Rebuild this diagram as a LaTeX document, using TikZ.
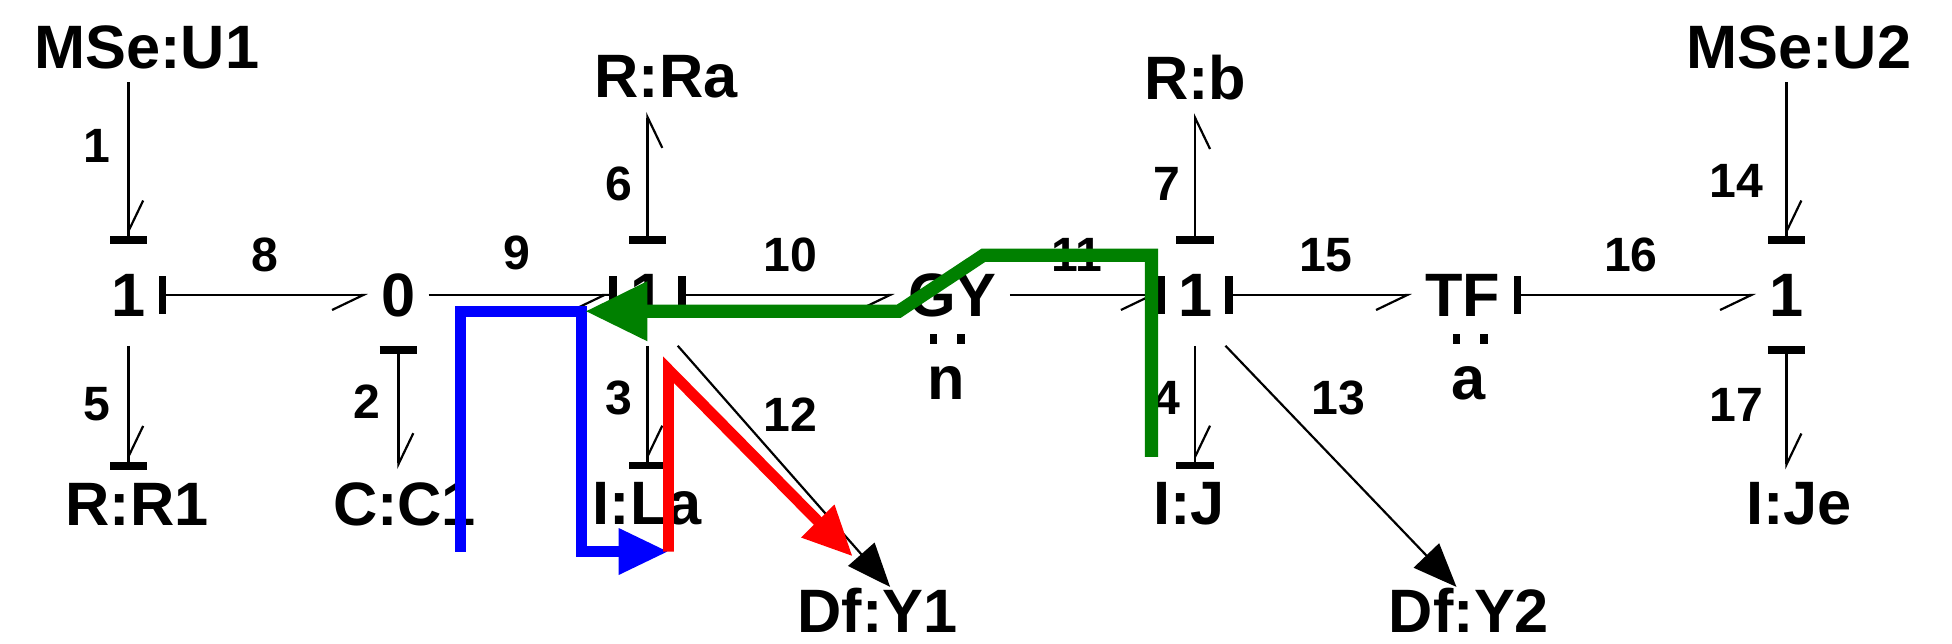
\documentclass[tikz,border=0pt]{standalone}
\usepackage{fontspec}
\setmainfont{Liberation Sans}
\usetikzlibrary{arrows.meta,calc}
\tikzset{
  HB/.tip={Straight Barb[harpoon,length=0.25cm,width=0.24cm,line width=0.5pt]},
  HBS/.tip={Straight Barb[harpoon,swap,length=0.25cm,width=0.24cm,line width=0.5pt]},
  BR/.tip={Bar[width=0.3cm,line width=1.8pt]}}
\begin{document}
\begin{tikzpicture}[x=0.01cm,y=-0.01cm,
  el/.style={font=\fontsize{14}{16}\bfseries\selectfont, inner sep=0.1cm},
  jn/.style={font=\fontsize{14}{16}\bfseries\selectfont, inner xsep=0.1cm, inner ysep=0, minimum height=0.8cm},
  num/.style={font=\fontsize{11}{13}\bfseries\selectfont, inner sep=0},
  bond/.style={line width=0.6pt},
  sig/.style={-{Triangle[length=0.35cm,width=0.28cm]}, line width=0.5pt},
  hl/.style={line width=2.5pt, -{Triangle[length=0.4cm,width=0.35cm]}}]
\useasboundingbox (0,0) rectangle (1568,517);
% junctions
\node[jn] (j1L) at (103,237) {1};
\node[jn] (z0) at (320,237) {0};
\node[jn] (j1M) at (520,237) {1};
\node[jn] (gy) at (765,237) {GY};
\node[jn] (j1R) at (960,237) {1};
\node[jn] (tf) at (1175,237) {TF};
\node[jn] (j1F) at (1435,237) {1};
% elements
\node[el] (U1) at (118,38) {MSe:U1};
\node[el] (U2) at (1445,38) {MSe:U2};
\node[el] (Ra) at (535,62) {R:Ra};
\node[el] (b) at (960,62) {R:b};
\node[el] (R1) at (110,405) {R:R1};
\node[el] (C1) at (325,405) {C:C1};
\node[el] (La) at (520,405) {I:La};
\node[el] (J) at (955,405) {I:J};
\node[el] (Je) at (1445,405) {I:Je};
\node[el] (Y1) at (705,490) {Df:Y1};
\node[el] (Y2) at (1180,490) {Df:Y2};
% modulus labels
\node[el,inner sep=0] (n) at (760,308) {n};
\node[el,inner sep=0] (a) at (1180,308) {a};
\foreach \x in {750,772,1170,1192} \fill (\x-3,268) rectangle (\x+3,276);
% bonds
\draw[bond,-{HB[] BR[]}] (j1L |- U1.south) -- (j1L.north);
\draw[bond,{BR[]}-{HBS[]}] (j1L.east) -- (z0.west);
\draw[bond,-{HBS[] BR[]}] (z0.east) -- (j1M.west);
\draw[bond,{BR[]}-{HBS[]}] (j1M.east) -- (gy.west);
\draw[bond,-{HBS[] BR[]}] (gy.east) -- (j1R.west);
\draw[bond,{BR[]}-{HBS[]}] (j1R.east) -- (tf.west);
\draw[bond,{BR[]}-{HBS[]}] (tf.east) -- (j1F.west);
\draw[bond,-{HB[] BR[]}] (j1F |- U2.south) -- (j1F.north);
\draw[bond,{BR[]}-{HB[]}] (j1F.south) -- (j1F |- Je.north);
\draw[bond,{BR[]}-{HBS[]}] (j1M.north) -- (j1M |- Ra.south);
\draw[bond,{BR[]}-{HBS[]}] (j1R.north) -- (j1R |- b.south);
\draw[bond,-{HB[] BR[]}] (j1M.south) -- (j1M |- La.north);
\draw[bond,-{HB[] BR[]}] (j1R.south) -- (j1R |- J.north);
\draw[bond,{BR[]}-{HB[]}] (z0.south) -- (z0 |- C1.north);
\draw[bond,-{HB[] BR[]}] (j1L.south) -- (j1L |- R1.north);
\draw[sig] (j1M.south east) -- ([xshift=0.1cm,yshift=-0.1cm]Y1.north);
\draw[sig] (j1R.south east) -- ([xshift=-0.1cm,yshift=-0.1cm]Y2.north);
% bond numbers
\node[num] at (78,117) {1};
\node[num] at (295,323) {2};
\node[num] at (497,320) {3};
\node[num] at (937,320) {4};
\node[num] at (78,325) {5};
\node[num] at (497,148) {6};
\node[num] at (937,148) {7};
\node[num] at (213,205) {8};
\node[num] at (415,203) {9};
\node[num] at (635,205) {10};
\node[num] at (865,205) {11};
\node[num] at (635,333) {12};
\node[num] at (1075,320) {13};
\node[num] at (1395,145) {14};
\node[num] at (1065,205) {15};
\node[num] at (1310,205) {16};
\node[num] at (1395,325) {17};
% causal paths
\draw[hl,blue] (370,443) -- (370,250) -- (467,250) -- (467,443) -- (537,443);
\draw[hl,red] (537,443) -- (537,297) -- (685,447);
\draw[green!50!black,line width=3pt,-{Triangle[length=0.5cm,width=0.45cm]}] (925,367) -- (925,205) -- (790,205) -- (722,250) -- (470,250);
\end{tikzpicture}
\end{document}
